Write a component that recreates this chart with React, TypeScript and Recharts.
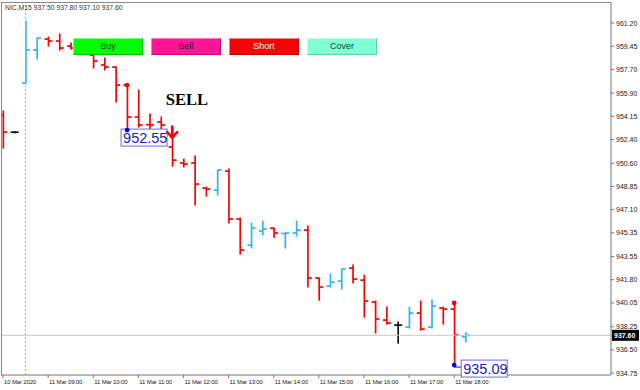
import React from 'react';
import { ComposedChart, Bar, XAxis, YAxis, ReferenceLine, ReferenceDot } from 'recharts';

// ---- data ----
const opens = [954.25, 952.95, 956.66, 959.16, 959.99, 959.84, 959.46, 959.31, 958.78, 958.03, 957.87, 956.51, 954.10, 953.52, 953.72, 951.83, 950.62, 950.62, 948.73, 948.58, 950.01, 946.39, 944.42, 945.48, 945.70, 945.29, 945.33, 945.55, 941.93, 941.32, 941.70, 942.68, 941.77, 940.11, 938.75, 938.37, 938.22, 939.28, 938.22, 939.66, 939.58, 937.50];
const highs = [954.55, 953.00, 961.35, 960.07, 960.14, 960.37, 959.69, 959.40, 958.78, 958.55, 957.87, 956.51, 956.14, 954.32, 954.10, 953.26, 950.92, 951.15, 948.80, 950.09, 950.16, 946.46, 946.08, 946.23, 945.70, 945.33, 946.23, 945.86, 941.93, 942.23, 942.61, 942.91, 942.15, 940.19, 939.73, 938.60, 939.73, 940.19, 940.26, 939.73, 940.04, 937.80];
const lows = [951.75, 952.90, 956.66, 958.48, 959.46, 959.16, 959.23, 958.86, 957.80, 957.65, 955.23, 953.11, 953.34, 953.19, 953.19, 950.39, 950.32, 947.44, 948.12, 948.20, 946.08, 943.74, 944.20, 945.18, 945.02, 944.20, 945.10, 941.25, 940.26, 941.25, 941.10, 941.55, 938.98, 937.77, 938.45, 937.01, 938.15, 937.99, 938.15, 938.45, 935.35, 937.10];
const closes = [952.96, 952.95, 959.16, 960.07, 959.84, 959.31, 959.31, 958.90, 958.33, 957.87, 956.51, 954.10, 953.49, 953.49, 953.49, 950.84, 950.54, 949.03, 948.65, 950.09, 946.39, 944.04, 945.70, 945.63, 945.33, 945.33, 945.55, 941.93, 941.25, 941.62, 942.61, 941.85, 940.19, 938.83, 938.52, 938.37, 939.28, 938.07, 939.81, 939.58, 937.62, 937.60];

const timeTickIndex = [0, 4, 8, 12, 16, 20, 24, 28, 32, 36, 40];
const timeTickLabels = ['10 Mar 2020', '11 Mar 09:00', '11 Mar 10:00', '11 Mar 11:00', '11 Mar 12:00', '11 Mar 13:00', '11 Mar 14:00', '11 Mar 15:00', '11 Mar 16:00', '11 Mar 17:00', '11 Mar 18:00'];
const priceTicks = [961.20, 959.45, 957.70, 955.90, 954.15, 952.40, 950.60, 948.85, 947.10, 945.35, 943.55, 941.80, 940.05, 938.25, 936.50, 934.75];

const lastPrice = 937.60;
const headerText = 'NIC,M15 937.50 937.80 937.10 937.60';
const buttonLabels = ['Buy', 'Sell', 'Short', 'Cover'];

// trade markers: [barIndex, price]
const entryDots = [[11, 956.51], [40, 940.04]];
const exitDots = [[11, 953.11], [40, 935.35]];
const exitLabels = ['952.55', '935.09'];
const sellArrow = [15, 953.0];
const sellText = { i: 16.3, price: 955.0, text: 'SELL' };

const data = opens.map((o, i) => ({
  i,
  open: o,
  high: highs[i],
  low: lows[i],
  close: closes[i],
  range: [lows[i], highs[i]],
}));

// ---- styles ----
const RED = '#FF0000';
const BLUE = '#2CB5F3';
const BLACK = '#111111';
const FONT = '"Liberation Sans", Arial, sans-serif';
const buttonStyles = [
  { left: 73, bg: '#00FF00', color: '#1d3b1d', bt: '#7dff7d', bb: '#00c000' },
  { left: 151, bg: '#FF1493', color: '#3a0a24', bt: '#ff7cc0', bb: '#c80c6e' },
  { left: 229, bg: '#FF0000', color: '#ffffff', bt: '#ff8080', bb: '#c00000' },
  { left: 307, bg: '#7FFFD4', color: '#1d3b33', bt: '#c0fff0', bb: '#5fcfaa' },
];

const OhlcShape = (props: any) => {
  const { x, y, width, height, payload } = props;
  if (x == null || y == null) return null;
  const top = Math.min(y, y + height);
  const bot = Math.max(y, y + height);
  const { open, high, low, close } = payload;
  const span = high - low;
  const yOf = (p: number) => (span === 0 ? top : top + ((high - p) / span) * (bot - top));
  const cx = x + width / 2;
  const color = close > open ? BLUE : close < open ? RED : BLACK;
  return (
    <g stroke={color} strokeWidth={1.7} fill="none">
      <line x1={cx} x2={cx} y1={top - 0.5} y2={Math.max(bot, top + 1) + 0.5} />
      <line x1={cx - 4} x2={cx} y1={yOf(open)} y2={yOf(open)} />
      <line x1={cx} x2={cx + 4} y1={yOf(close)} y2={yOf(close)} />
    </g>
  );
};

const TimeTick = (props: any) => {
  const { x, y, payload } = props;
  const idx = timeTickIndex.indexOf(payload.value);
  return (
    <text x={x + 1} y={y + 4} fontSize={6} letterSpacing={-0.15} fill="#222" fontFamily={FONT} textAnchor="start">
      {timeTickLabels[idx]}
    </text>
  );
};

const PriceTick = (props: any) => {
  const { x, y, payload } = props;
  return (
    <text x={x} y={y + 2.5} fontSize={7} fill="#222" fontFamily={FONT} textAnchor="start">
      {Number(payload.value).toFixed(2)}
    </text>
  );
};

const PriceTag = (props: any) => {
  const { cx, cy } = props;
  return (
    <g>
      <rect x={cx + 1} y={cy - 5.5} width={27} height={11} fill="#000" />
      <text x={cx + 3} y={cy + 2.5} fontSize={7} fill="#fff" fontFamily={FONT} fontWeight="bold">
        {lastPrice.toFixed(2)}
      </text>
    </g>
  );
};

const makeExitLabel = (text: string, dx: number, dy: number, dash: boolean) => (props: any) => {
  const { cx, cy } = props;
  return (
    <g>
      {dash && <line x1={cx} x2={cx + dx} y1={cy + 2} y2={cy + 2} stroke="#0000ff" strokeWidth={1} />}
      <rect x={cx + dx} y={cy + dy} width={46} height={17} fill="#fff" stroke="#6a6ae6" strokeWidth={1} />
      <text x={cx + dx + 2} y={cy + dy + 14} fontSize={14.5} fill="#2020c8" fontFamily={FONT}>
        {text}
      </text>
      <circle cx={cx} cy={cy} r={2.4} fill="#0000ff" />
    </g>
  );
};

const ArrowShape = (props: any) => {
  const { cx, cy } = props;
  return (
    <g stroke={RED} strokeWidth={2.6} fill="none" strokeLinecap="round" strokeLinejoin="round">
      <line x1={cx} x2={cx} y1={cy - 5} y2={cy + 6} />
      <polyline points={`${cx - 5},${cy + 0.5} ${cx},${cy + 6} ${cx + 5},${cy + 0.5}`} />
    </g>
  );
};

const SellTextShape = (props: any) => {
  const { cx, cy } = props;
  return (
    <text x={cx} y={cy} textAnchor="middle" fontSize={16.5} fontWeight="bold" fontFamily='"Liberation Serif", "Times New Roman", serif' fill="#000">
      {sellText.text}
    </text>
  );
};

export default function App() {
  return (
    <div style={{ position: 'absolute', left: 0, top: 0, width: 640, height: 390, background: '#fff', overflow: 'hidden' }}>
      <ComposedChart width={640} height={390} data={data} margin={{ top: 2, right: 0, bottom: 0, left: 1 }}>
        <XAxis
          dataKey="i"
          type="number"
          domain={[-0.177, 53.9]}
          allowDataOverflow
          ticks={timeTickIndex}
          tick={<TimeTick />}
          tickSize={3}
          tickMargin={2}
          height={15}
          stroke="#777"
          interval={0}
        />
        <YAxis
          orientation="right"
          domain={[934.6, 962.79]}
          allowDataOverflow
          ticks={priceTicks}
          tick={<PriceTick />}
          tickSize={3}
          tickMargin={2}
          width={29}
          stroke="#777"
          interval={0}
        />
        <ReferenceLine x={2} stroke="#aaa" strokeDasharray="2 2" strokeWidth={1} />
        <ReferenceLine y={lastPrice} stroke="#c8c8c8" strokeWidth={1} />
        <Bar dataKey="range" shape={OhlcShape} barSize={8} isAnimationActive={false} />
        {entryDots.map(([i, p], k) => (
          <ReferenceDot key={'e' + k} x={i} y={p} r={2.4} fill="#ff0000" stroke="none" />
        ))}
        <ReferenceDot x={exitDots[0][0]} y={exitDots[0][1]} r={2.4} shape={makeExitLabel(exitLabels[0], -6, -1, false)} />
        <ReferenceDot x={exitDots[1][0]} y={exitDots[1][1]} r={2.4} shape={makeExitLabel(exitLabels[1], 7, -5, true)} />
        <ReferenceDot x={sellArrow[0]} y={sellArrow[1]} r={3} shape={ArrowShape} />
        <ReferenceDot x={sellText.i} y={sellText.price} r={3} shape={SellTextShape} />
        <ReferenceDot x={53.9} y={lastPrice} r={3} ifOverflow="visible" shape={PriceTag} />
      </ComposedChart>
      <div style={{ position: 'absolute', left: 1, top: 2, width: 610, height: 373, borderTop: '1px solid #888', borderLeft: '1px solid #888', boxSizing: 'border-box', pointerEvents: 'none' }} />
      <div style={{ position: 'absolute', left: 5, top: 3, fontFamily: FONT, fontSize: 6.8, color: '#333', whiteSpace: 'nowrap', lineHeight: '9px' }}>
        {headerText}
      </div>
      {buttonLabels.map((label, k) => {
        const s = buttonStyles[k];
        return (
          <div
            key={label}
            style={{
              position: 'absolute',
              left: s.left,
              top: 38,
              width: 70,
              height: 17,
              boxSizing: 'border-box',
              background: s.bg,
              color: s.color,
              borderTop: `1px solid ${s.bt}`,
              borderLeft: `1px solid ${s.bt}`,
              borderRight: `1px solid ${s.bb}`,
              borderBottom: `1px solid ${s.bb}`,
              fontFamily: FONT,
              fontSize: 9,
              lineHeight: '15px',
              textAlign: 'center',
            }}
          >
            {label}
          </div>
        );
      })}
    </div>
  );
}
